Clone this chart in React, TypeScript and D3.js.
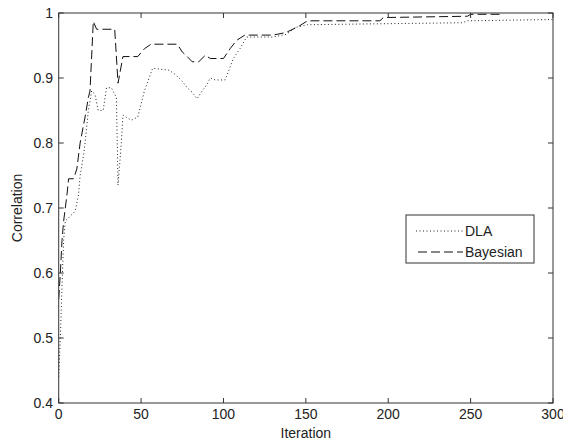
import React from "react";
import * as d3 from "d3";

// iteration / correlation pairs
const dlaIter = [0, 1, 2, 3, 4, 6, 8, 10, 12, 13, 15, 16, 18, 20, 22, 24, 27, 29, 32, 35, 36, 38, 39, 44, 48, 50, 52, 57, 67, 71, 75, 78, 81, 84, 87, 90, 92, 95, 101, 103, 106, 110, 114, 130, 138, 144, 151, 245, 248, 300];
const dlaCorr = [0.44, 0.5, 0.58, 0.65, 0.68, 0.685, 0.69, 0.695, 0.72, 0.75, 0.78, 0.8, 0.85, 0.88, 0.875, 0.85, 0.85, 0.885, 0.885, 0.87, 0.735, 0.8, 0.843, 0.835, 0.84, 0.86, 0.88, 0.915, 0.912, 0.905, 0.895, 0.885, 0.878, 0.868, 0.88, 0.89, 0.9, 0.897, 0.897, 0.91, 0.93, 0.945, 0.963, 0.963, 0.967, 0.978, 0.982, 0.985, 0.988, 0.99];

const bayIter = [0, 1, 2, 3, 5, 6, 9, 11, 13, 16, 18, 19, 21, 23, 34, 36, 39, 48, 52, 56, 72, 75, 78, 81, 85, 89, 92, 100, 104, 108, 113, 130, 138, 146, 151, 195, 197, 248, 250, 270];
const bayCorr = [0.56, 0.6, 0.65, 0.68, 0.72, 0.745, 0.745, 0.76, 0.8, 0.84, 0.87, 0.88, 0.987, 0.975, 0.975, 0.892, 0.933, 0.933, 0.945, 0.952, 0.952, 0.94, 0.933, 0.925, 0.925, 0.935, 0.93, 0.93, 0.945, 0.958, 0.966, 0.966, 0.97, 0.98, 0.988, 0.988, 0.993, 0.995, 0.998, 0.998];

const xTicks = [0, 50, 100, 150, 200, 250, 300];
const yTicks = [0.4, 0.5, 0.6, 0.7, 0.8, 0.9, 1];

const seriesNames = ["DLA", "Bayesian"];

const W = 563;
const H = 445;
const left = 58.7;
const right = 553;
const top = 13;
const bottom = 403;
const font = "'Liberation Sans', Arial, sans-serif";

export default function App() {
  const x = d3.scaleLinear().domain([0, 300]).range([left, right]);
  const y = d3.scaleLinear().domain([0.4, 1]).range([bottom, top]);

  const line = d3.line<[number, number]>()
    .x(d => x(d[0]))
    .y(d => y(d[1]));

  const dlaPath = line(dlaIter.map((v, i) => [v, dlaCorr[i]]));
  const bayPath = line(bayIter.map((v, i) => [v, bayCorr[i]]));

  const tickLen = 5;

  return (
    <svg width={W} height={H} style={{ position: "absolute", left: 0, top: 0 }} fontFamily={font}>
      <rect width={W} height={H} fill="#fff" />
      <defs>
        <clipPath id="plot">
          <rect x={left} y={top} width={right - left} height={bottom - top} />
        </clipPath>
      </defs>

      <g clipPath="url(#plot)">
        <path d={dlaPath} fill="none" stroke="#222" strokeWidth={1} strokeDasharray="1,2.5" />
        <path d={bayPath} fill="none" stroke="#111" strokeWidth={1} strokeDasharray="9,4" />
      </g>

      {/* box */}
      <rect x={left} y={top} width={right - left} height={bottom - top} fill="none" stroke="#333" strokeWidth={1} />

      {xTicks.map(t => (
        <g key={"x" + t}>
          <line x1={x(t)} x2={x(t)} y1={bottom} y2={bottom - tickLen} stroke="#333" />
          <line x1={x(t)} x2={x(t)} y1={top} y2={top + tickLen} stroke="#333" />
          <text x={x(t)} y={419} fontSize={14} textAnchor="middle" fill="#222">{t}</text>
        </g>
      ))}

      {yTicks.map(t => (
        <g key={"y" + t}>
          <line x1={left} x2={left + tickLen} y1={y(t)} y2={y(t)} stroke="#333" />
          <line x1={right} x2={right - tickLen} y1={y(t)} y2={y(t)} stroke="#333" />
          <text x={53} y={y(t)} dy="0.35em" fontSize={14} textAnchor="end" fill="#222">{t === 1 ? "1" : t.toFixed(1)}</text>
        </g>
      ))}

      <text x={(left + right) / 2} y={438} fontSize={14} textAnchor="middle" fill="#222">Iteration</text>
      <text transform={`translate(22, ${(top + bottom) / 2}) rotate(-90)`} fontSize={14} textAnchor="middle" fill="#222">Correlation</text>

      {/* legend */}
      <g>
        <rect x={406} y={215} width={128} height={48} fill="#fff" stroke="#333" />
        <line x1={416} x2={463} y1={231} y2={231} stroke="#222" strokeDasharray="1,2.5" />
        <text x={465} y={236} fontSize={14} fill="#222">{seriesNames[0]}</text>
        <line x1={418} x2={463} y1={252} y2={252} stroke="#111" strokeDasharray="9,4" />
        <text x={465} y={257} fontSize={14} fill="#222">{seriesNames[1]}</text>
      </g>
    </svg>
  );
}
